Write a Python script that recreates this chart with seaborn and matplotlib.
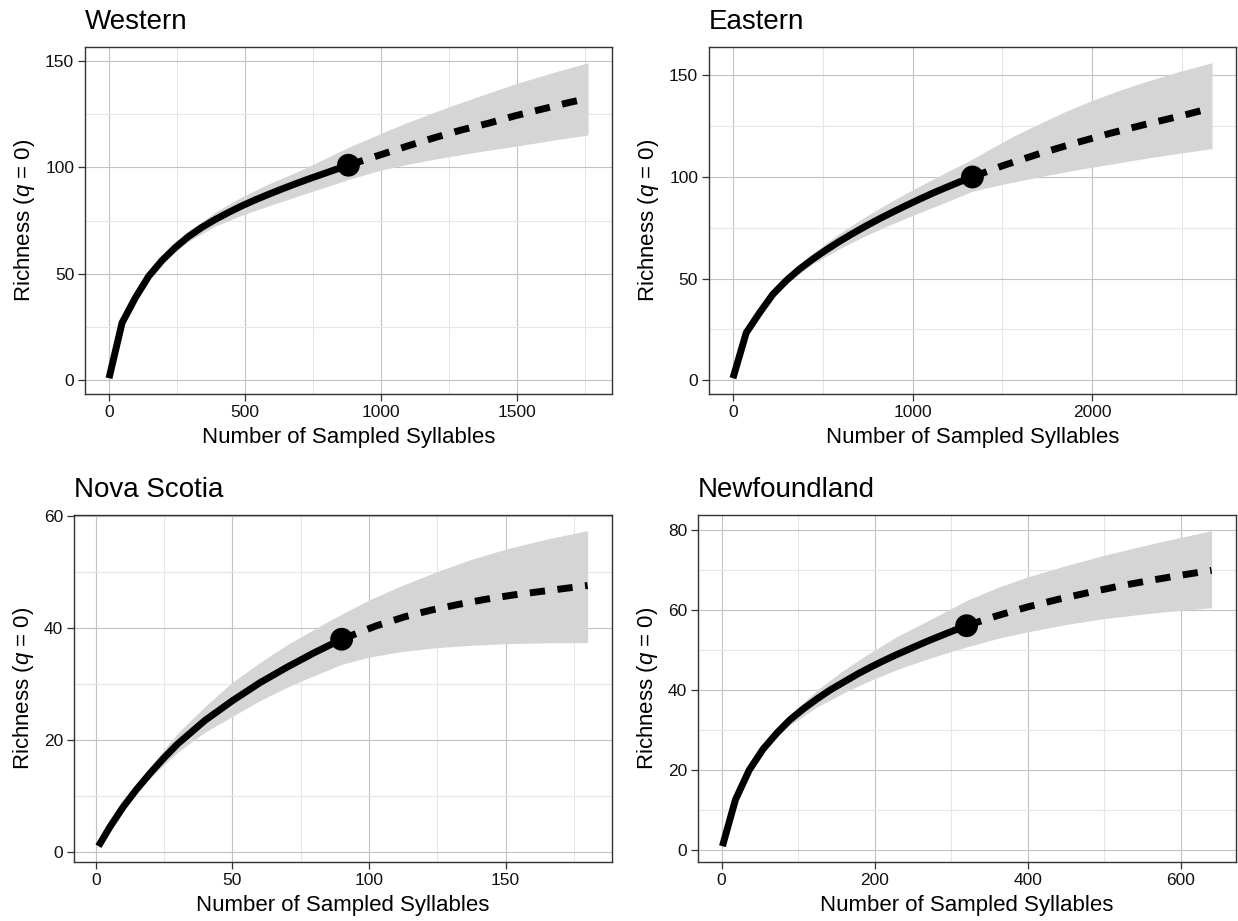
import matplotlib
matplotlib.use("Agg")
import matplotlib.pyplot as plt
from matplotlib.ticker import MultipleLocator
import seaborn as sns
import pandas as pd

# Western
west_rare_x = [1, 49, 98, 147, 196, 245, 293, 342, 391, 440, 489, 538, 587, 636,
               685, 734, 783, 832, 881]
west_rare_y = [1, 27, 38.8, 48.9, 56.3, 62.4, 67.5, 71.8, 75.5, 78.8, 81.9, 84.7, 87.3, 89.8,
               92.2, 94.5, 96.7, 98.9, 101]
west_ext_x = [881, 1004, 1098, 1197, 1295, 1393, 1494, 1592, 1694, 1762]
west_ext_y = [101, 106.1, 110, 113.9, 117.5, 120.6, 124.2, 127.3, 130.5, 132.4]
west_band_x = [1, 49, 98, 147, 196, 245, 293, 391, 489, 587, 703, 881,
               1000, 1100, 1250, 1375, 1500, 1630, 1762]
west_band_hi = [1, 27.3, 39.4, 49.9, 57.9, 64.5, 70.0, 79.0, 86.1, 92.2, 98.5, 109.4,
                115.9, 121.2, 128.4, 134.0, 139.4, 144.4, 149.1]
west_band_lo = [1, 26.7, 38.2, 47.9, 54.9, 60.5, 65.2, 72.4, 77.5, 81.9, 86.8, 94.3,
                98.7, 101.5, 105.0, 107.6, 110.0, 112.7, 115.2]

# Eastern
east_rare_x = [1, 75, 149, 223, 297, 371, 445, 519, 593, 667, 741, 815, 889,
               963, 1037, 1111, 1185, 1259, 1333]
east_rare_y = [1, 23.4, 33.2, 42.3, 49.0, 54.7, 59.6, 64.1, 68.3, 72.2, 75.9, 79.4, 82.7,
               85.9, 89.0, 92.0, 94.8, 97.5, 100]
east_ext_x = [1333, 1500, 1700, 1900, 2100, 2300, 2500, 2666]
east_ext_y = [100, 105.5, 111.3, 116.6, 121.5, 126, 130.2, 134]
east_band_x = [1, 75, 149, 297, 445, 593, 741, 889, 1037, 1185, 1333, 1450, 1562,
               1700, 1850, 2000, 2150, 2300, 2480, 2666]
east_band_hi = [1, 23.6, 33.6, 50.5, 62.5, 72.2, 80.7, 88.3, 95.4, 102.2, 108.8, 114.7, 120.1,
                126.0, 132.2, 137.7, 142.6, 147.0, 151.8, 156.2]
east_band_lo = [1, 23.2, 32.8, 47.6, 57.2, 64.7, 71.2, 77.0, 82.4, 87.6, 93.0, 95.4, 97.5,
                100.0, 102.5, 104.8, 107.0, 109.2, 111.6, 114.0]

# Nova Scotia
ns_rare_x = [1, 5, 10, 15, 20, 25, 30, 40, 50, 60, 70, 80, 90]
ns_rare_y = [1, 4.3, 8.0, 11.2, 14.1, 16.8, 19.3, 23.5, 27.0, 30.2, 33.0, 35.6, 38]
ns_ext_x = [90, 102.7, 113, 122.7, 132.5, 142.2, 152.6, 162.3, 172, 180]
ns_ext_y = [38, 40.4, 42.0, 43.2, 44.2, 45.1, 45.9, 46.5, 47.1, 47.6]
ns_band_x = [1, 10, 20, 25, 30, 40, 50, 60, 70, 75, 80, 90, 100, 112, 125, 137, 150, 165, 180]
ns_band_hi = [1, 8.3, 15.2, 18.3, 21.2, 26.0, 30.3, 33.8, 37.0, 38.4, 39.8, 42.5, 45.0,
              47.6, 50.1, 52.2, 54.1, 55.9, 57.4]
ns_band_lo = [1, 7.8, 13.2, 15.6, 17.8, 21.4, 24.2, 27.0, 29.4, 30.5, 31.5, 33.5, 34.8,
              35.8, 36.5, 36.9, 37.2, 37.35, 37.4]

# Newfoundland
nf_rare_x = [1, 18, 36, 54, 72, 89, 107, 125, 142, 160, 178, 196, 213, 231, 249, 267, 285, 302, 320]
nf_rare_y = [1, 12.6, 20, 25.2, 29.2, 32.5, 35.3, 37.8, 40.0, 42.0, 44.0, 45.8, 47.4,
             49.0, 50.5, 52.0, 53.4, 54.7, 56]
nf_ext_x = [320, 360, 400, 440, 480, 520, 560, 600, 640]
nf_ext_y = [56, 58.5, 60.7, 62.6, 64.3, 65.9, 67.3, 68.6, 69.8]
nf_band_x = [1, 18, 36, 54, 72, 89, 125, 160, 196, 231, 267, 302, 320,
             360, 400, 450, 500, 570, 640]
nf_band_hi = [1, 12.7, 20.3, 25.8, 30.2, 33.8, 40, 45, 49.5, 53.5, 57, 60.5, 62.3,
              65.5, 68.2, 71.0, 73.6, 76.8, 79.7]
nf_band_lo = [1, 12.5, 19.7, 24.6, 28.2, 31.2, 35.8, 39.3, 42.5, 45.2, 47.6, 49.7, 50.7,
              52.8, 54.5, 56.3, 57.8, 59.3, 60.5]

panels = [
    ("Western", west_rare_x, west_rare_y, west_ext_x, west_ext_y,
     west_band_x, west_band_lo, west_band_hi, 500, 50),
    ("Eastern", east_rare_x, east_rare_y, east_ext_x, east_ext_y,
     east_band_x, east_band_lo, east_band_hi, 1000, 50),
    ("Nova Scotia", ns_rare_x, ns_rare_y, ns_ext_x, ns_ext_y,
     ns_band_x, ns_band_lo, ns_band_hi, 50, 20),
    ("Newfoundland", nf_rare_x, nf_rare_y, nf_ext_x, nf_ext_y,
     nf_band_x, nf_band_lo, nf_band_hi, 200, 20),
]

# axes boxes in figure fractions [left, bottom, width, height]
boxes = [
    [0.0687, 0.5722, 0.4257, 0.3768],
    [0.5727, 0.5722, 0.4257, 0.3768],
    [0.0598, 0.0641, 0.4346, 0.3768],
    [0.5638, 0.0641, 0.4346, 0.3768],
]

sns.set_theme(style="white")
plt.rcParams['font.family'] = ['Liberation Sans', 'DejaVu Sans']
plt.rcParams['mathtext.fontset'] = 'custom'
plt.rcParams['mathtext.rm'] = 'Liberation Sans'
plt.rcParams['mathtext.it'] = 'Liberation Sans:italic'
plt.rcParams['text.color'] = 'black'
plt.rcParams['axes.labelcolor'] = 'black'

fig = plt.figure(figsize=(12.38, 9.21), dpi=100)

for (name, rx, ry, ex, ey, bx, blo, bhi, xstep, ystep), box in zip(panels, boxes):
    ax = fig.add_axes(box)
    ax.fill_between(bx, blo, bhi, color='#d5d5d5', linewidth=0, zorder=1)
    rare = pd.DataFrame({'m': rx, 'S': ry})
    ext = pd.DataFrame({'m': ex, 'S': ey})
    sns.lineplot(data=rare, x='m', y='S', ax=ax, color='black', linewidth=5,
                 estimator=None, solid_capstyle='butt', zorder=3)
    sns.lineplot(data=ext, x='m', y='S', ax=ax, color='black', linewidth=5,
                 estimator=None, linestyle=(0, (2.2, 1.8)),
                 dash_capstyle='butt', zorder=3)
    sns.scatterplot(x=[rx[-1]], y=[ry[-1]], ax=ax, color='black', s=270,
                    edgecolor='none', zorder=4)
    ax.margins(0.05)

    ax.xaxis.set_major_locator(MultipleLocator(xstep))
    ax.xaxis.set_minor_locator(MultipleLocator(xstep / 2))
    ax.yaxis.set_major_locator(MultipleLocator(ystep))
    ax.yaxis.set_minor_locator(MultipleLocator(ystep / 2))
    ax.grid(True, which='major', color='#c2c2c2', linewidth=0.8)
    ax.grid(True, which='minor', color='#e6e6e6', linewidth=0.8)
    ax.set_axisbelow(True)
    ax.tick_params(which='major', length=4.8, width=0.9, color='#333333',
                   labelsize=12.5, labelcolor='#111111', pad=3,
                   bottom=True, left=True)
    ax.tick_params(which='minor', length=0)
    for sp in ax.spines.values():
        sp.set_color('#333333')
        sp.set_linewidth(1.0)

    ax.set_title(name, loc='left', fontsize=20, pad=13)
    ax.set_xlabel('Number of Sampled Syllables', fontsize=16, labelpad=5)
    ax.set_ylabel('Richness ($q$ = 0)', fontsize=16, labelpad=5.5)

fig.savefig('out.png', dpi=100)
